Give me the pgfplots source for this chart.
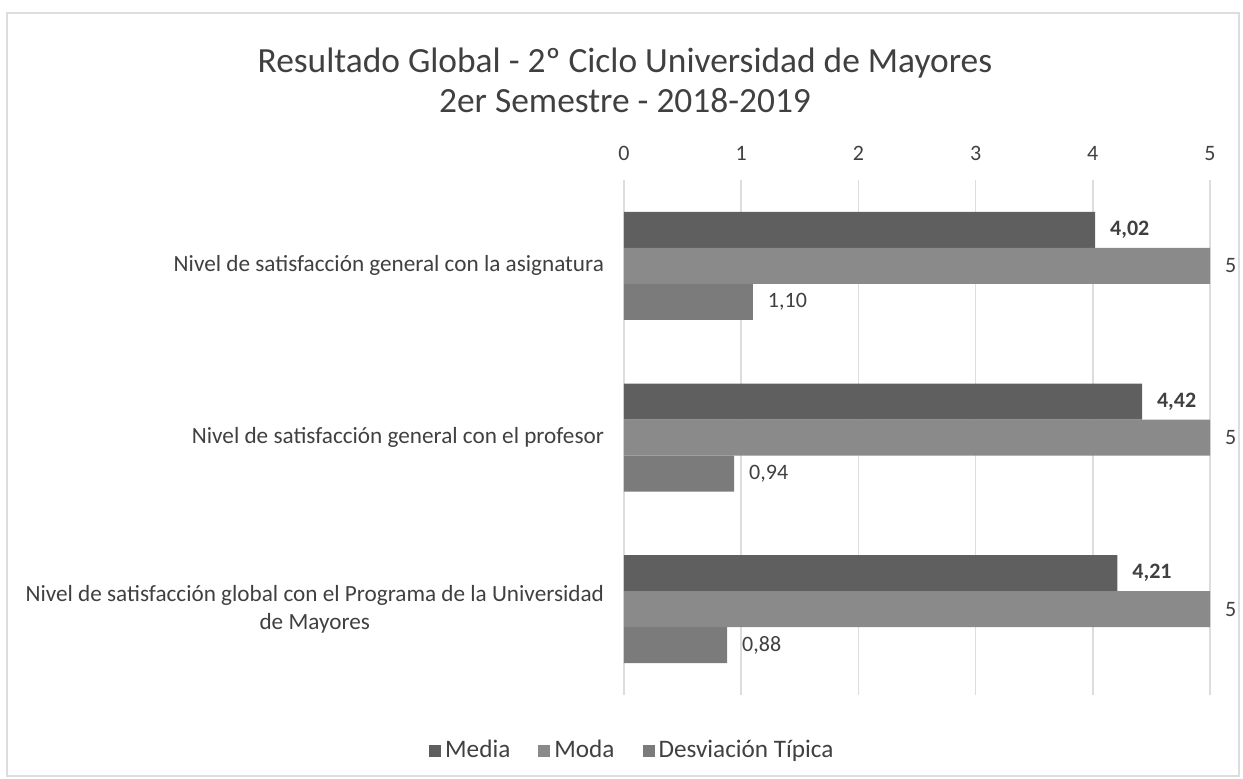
\documentclass[border=0pt]{standalone}
\usepackage{pgfplots}
\pgfplotsset{compat=1.18}
\usepackage{fontspec}
\setmainfont{Carlito}
\definecolor{txt}{HTML}{404040}
\definecolor{cMedia}{HTML}{5F5F5F}
\definecolor{cModa}{HTML}{8A8A8A}
\definecolor{cDesv}{HTML}{7B7B7B}
\definecolor{gridc}{HTML}{DDDDDD}
\begin{document}
\begin{tikzpicture}[x=1pt,y=1pt]
\useasboundingbox (0,0) rectangle (621.5,389);
\draw[gridc, line width=0.8pt] (3.5,1) rectangle (619.5,382.5);
\node[align=center, font=\fontsize{17.7}{20}\selectfont, text=txt] at (312.5,349) {Resultado Global - 2º Ciclo Universidad de Mayores\\2er Semestre - 2018-2019};
\begin{axis}[
  at={(312pt,41.5pt)}, anchor=south west,
  scale only axis, width=293pt, height=257.5pt,
  xbar=0pt, bar width=18pt,
  xmin=0, xmax=5, ymin=-0.5, ymax=2.5,
  ytick={0,1,2},
  yticklabels={{Nivel de satisfacción global con el Programa de la Universidad\\de Mayores}, Nivel de satisfacción general con el profesor, Nivel de satisfacción general con la asignatura},
  yticklabel style={align=center, font=\fontsize{11.6}{14}\selectfont, text=txt, xshift=-6.5pt},
  xtick={0,1,2,3,4,5},
  xticklabel pos=top,
  xticklabel style={font=\fontsize{11}{12}\selectfont, text=txt, yshift=6pt},
  /pgf/number format/assume math mode=true,
  axis line style={draw=none},
  major tick length=0pt,
  xmajorgrids, grid style={gridc, line width=0.8pt},
  nodes near coords,
  nodes near coords style={font=\fontsize{11}{12}\selectfont, text=txt, xshift=4pt,
    /pgf/number format/use comma, /pgf/number format/fixed, /pgf/number format/fixed zerofill, /pgf/number format/precision=2, /pgf/number format/assume math mode=true},
  legend style={at={(0.016,-0.108)}, anchor=center, draw=none, fill=none,
    legend columns=3, font=\fontsize{12.6}{14}\selectfont, text=txt,
    /tikz/every even column/.append style={column sep=12pt}},
  legend image code/.code={\fill[#1] (0pt,-3pt) rectangle (6pt,3pt);},
  legend cell align=left,
  clip=false,
]
\addplot[fill=cMedia, draw=none, bar shift=18pt, nodes near coords style={font=\fontsize{11}{12}\selectfont\bfseries}] coordinates {(4.21,0) (4.42,1) (4.02,2)};
\addplot[fill=cModa, draw=none, bar shift=0pt, nodes near coords style={/pgf/number format/precision=0, /pgf/number format/fixed zerofill=false}] coordinates {(5,0) (5,1) (5,2)};
\addplot[fill=cDesv, draw=none, bar shift=-18pt] coordinates {(0.88,0) (0.94,1) (1.10,2)};
\legend{Media, Moda, Desviación Típica}
\end{axis}
\end{tikzpicture}
\end{document}
